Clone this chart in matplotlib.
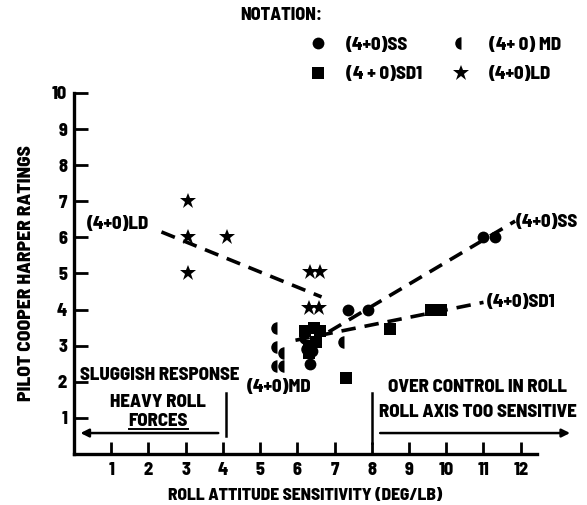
import matplotlib
matplotlib.use("Agg")
import matplotlib.pyplot as plt
from matplotlib.lines import Line2D
from matplotlib import font_manager

names = {f.name for f in font_manager.fontManager.ttflist}
MAIN = 'Barlow Semi Condensed' if 'Barlow Semi Condensed' in names else 'Barlow Condensed'
plt.rcParams['font.family'] = [MAIN, 'DejaVu Sans']
W = 800
plt.rcParams['font.weight'] = W

# ---- data ----
ss_x = [6.35, 6.4, 7.35, 7.9, 11.0, 11.3]
ss_y = [2.5, 2.85, 4.0, 4.0, 6.0, 6.0]
md_x = [5.45, 5.45, 5.65, 5.45, 5.65, 6.2, 6.25, 7.25]
md_y = [3.5, 2.95, 2.8, 2.45, 2.45, 3.2, 2.9, 3.1]
sd1_x = [6.2, 6.45, 6.6, 6.3, 6.5, 6.3, 7.3, 8.5, 9.6, 9.85]
sd1_y = [3.4, 3.5, 3.4, 3.0, 3.1, 2.8, 2.1, 3.45, 4.0, 4.0]
ld_x = [3.05, 3.05, 3.05, 4.1, 6.35, 6.62, 6.3, 6.57]
ld_y = [7.0, 6.0, 5.0, 6.0, 5.05, 5.05, 4.05, 4.05]

ld_line_x = [2.35, 6.65]
ld_line_y = [6.15, 4.35]
ss_line_x = [6.3, 11.85]
ss_line_y = [3.05, 6.45]
sd1_line_x = [5.95, 11.0]
sd1_line_y = [3.15, 4.2]

xticks = list(range(1, 13))
yticks = list(range(1, 11))

FS = 13
FA = 13.5

fig = plt.figure(figsize=(5.87, 5.05), dpi=100)
ax = fig.add_axes([0.126, 0.101, 0.789, 0.715])
ax.set_xlim(0, 12.44)
ax.set_ylim(0, 10)
for s in ['top', 'right']:
    ax.spines[s].set_visible(False)
for s in ['left', 'bottom']:
    ax.spines[s].set_linewidth(2.4)
ax.set_xticks(xticks)
ax.set_yticks(yticks)
ax.tick_params(axis='x', direction='in', length=9, width=2, labelsize=FS, pad=6)
ax.tick_params(axis='y', direction='in', length=10, width=2, labelsize=FS, pad=5)
for lab in ax.get_xticklabels() + ax.get_yticklabels():
    lab.set_fontweight(W)

ax.set_xlabel('ROLL ATTITUDE SENSITIVITY (DEG/LB)', fontsize=12.5, fontweight=W, labelpad=7)
ax.set_ylabel('PILOT COOPER HARPER RATINGS', fontsize=14, fontweight=W, labelpad=13)

dash = dict(color='black', lw=2.6, linestyle=(0, (4, 2.5)), dash_capstyle='butt')
ax.plot(ld_line_x, ld_line_y, **dash)
ax.plot(ss_line_x, ss_line_y, **dash)
ax.plot(sd1_line_x, sd1_line_y, **dash)

ax.plot(ss_x, ss_y, 'o', color='black', ms=8.5, mew=0, clip_on=False)
ax.plot(sd1_x, sd1_y, 's', color='black', ms=8, mew=0, clip_on=False)
ax.plot(md_x, md_y, 'o', color='black', ms=9, mew=0, fillstyle='left',
        markerfacecoloralt='none', clip_on=False)
ax.plot(ld_x, ld_y, '*', color='black', ms=12, mew=0, clip_on=False)

tk = dict(fontsize=FA, fontweight=W)
ax.text(11.86, 6.42, '(4+0)SS', ha='left', va='center', clip_on=False, **tk)
ax.text(11.1, 4.2, '(4+0)SD1', ha='left', va='center', clip_on=False, **tk)
ax.text(0.35, 6.37, '(4+0)LD', ha='left', va='center', **tk)
ax.text(5.5, 1.85, '(4+0)MD', ha='center', va='center', **tk)

ax.text(0.15, 2.2, 'SLUGGISH RESPONSE', ha='left', va='center', **tk)
ax.text(2.25, 1.45, 'HEAVY ROLL', ha='center', va='center', **tk)
ax.text(2.25, 0.92, 'FORCES', ha='center', va='center', **tk)
ax.plot([1.48, 3.05], [0.68, 0.68], color='black', lw=1.4)
ax.text(10.85, 1.85, 'OVER CONTROL IN ROLL', ha='center', va='center', clip_on=False, **tk)
ax.text(10.85, 1.15, 'ROLL AXIS TOO SENSITIVE', ha='center', va='center', clip_on=False, **tk)

# region markers
ax.plot([4.08, 4.08], [0.5, 1.7], color='black', lw=1.8)
ax.plot([8.0, 8.0], [0.3, 1.7], color='black', lw=1.8)
ax.annotate('', xy=(0.1, 0.58), xytext=(3.95, 0.58),
            arrowprops=dict(arrowstyle='-|>', color='black', lw=1.8, mutation_scale=12))
ax.annotate('', xy=(13.4, 0.58), xytext=(8.15, 0.58), annotation_clip=False,
            arrowprops=dict(arrowstyle='-|>', color='black', lw=1.8, mutation_scale=12))

# notation legend
fig.text(0.41, 0.97, 'NOTATION:', ha='left', va='center', fontsize=FS, fontweight=W)
handles = [
    Line2D([], [], marker='o', color='black', ls='none', ms=8.5, mew=0),
    Line2D([], [], marker='s', color='black', ls='none', ms=8, mew=0),
    Line2D([], [], marker='o', color='black', ls='none', ms=9, mew=0, fillstyle='left', markerfacecoloralt='none'),
    Line2D([], [], marker='*', color='black', ls='none', ms=12, mew=0),
]
labels = ['(4+0)SS', '(4 + 0)SD1', '(4+ 0) MD', '(4+0)LD']
leg = fig.legend(handles, labels, ncol=2, loc='upper left', bbox_to_anchor=(0.525, 0.927),
                 frameon=False, fontsize=FA, handletextpad=1.0, columnspacing=1.6,
                 labelspacing=0.7, borderaxespad=0, borderpad=0, handlelength=1.0)
for t in leg.get_texts():
    t.set_fontweight(W)

fig.savefig('out.png', dpi=100)
